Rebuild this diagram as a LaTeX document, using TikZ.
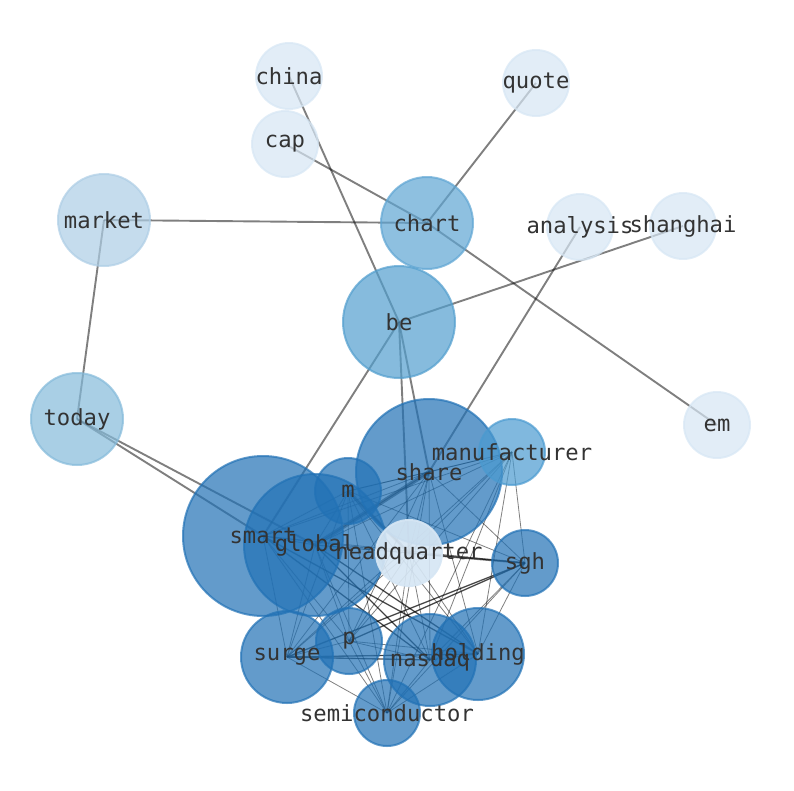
\documentclass[tikz,border=0pt]{standalone}
\usepackage{fontspec}
\newfontfamily\wordfont{DejaVu Sans Mono}
\usetikzlibrary{backgrounds}

\definecolor{blueA}{HTML}{D6E6F4}
\definecolor{blueB}{HTML}{ADCDE5}
\definecolor{blueC}{HTML}{84BADA}
\definecolor{blueD}{HTML}{5EA5D3}
\definecolor{blueE}{HTML}{529ECE}
\definecolor{blueF}{HTML}{4A9AD0}
\definecolor{blueG}{HTML}{2171B5}
\definecolor{wordgray}{HTML}{333333}

\tikzset{
  bub/.style={circle, draw=#1, fill=#1, opacity=0.7, line width=2pt, inner sep=0pt},
  word/.style={font=\wordfont\fontsize{22.2}{26}\selectfont, text=wordgray, inner sep=0pt},
  link/.style={draw=black, draw opacity=0.5, line width=1.9pt},
  clink/.style={draw=black, draw opacity=0.5, line width=0.8pt},
}

\begin{document}
\begin{tikzpicture}[x=1pt,y=-1pt]
\useasboundingbox (0,0) rectangle (794,790);

% bubbles: name/x/y/radius/colour
\foreach \n/\x/\y/\r/\c in {
  china/289/76/33/blueA, quote/536/83/33/blueA, cap/285/144/33/blueA,
  market/104/220/46/blueB, chart/427/223/46/blueD, analysis/580/227/33/blueA,
  shanghai/683/226/33/blueA, be/399/322/56/blueE, today/77/419/46/blueC,
  em/717/425/33/blueA, smart/263/536/80/blueG, global/315/545/71/blueG,
  m/348/491/33/blueG, share/429/472/73/blueG, manufacturer/512/452/33/blueF,
  sgh/525/563/33/blueG, surge/287/657/46/blueG, p/349/641/33/blueG,
  nasdaq/430/660/46/blueG, holding/478/654/46/blueG, semiconductor/387/713/33/blueG}
  \node[bub=\c, minimum size=2*\r pt] (\n) at (\x,\y) {};
\node[bub=blueA, opacity=0.92, minimum size=66pt] (headquarter) at (409,553) {};

% edges under the bubbles
\begin{scope}[on background layer]
  \foreach \a/\b in {china/be, cap/chart, chart/em, quote/chart, market/chart,
      market/today, analysis/share, shanghai/be, be/smart, be/share,
      be/headquarter, today/smart, today/global}
    \draw[link] (\a.center) -- (\b.center);
  \foreach \a [count=\i] in {share,manufacturer,m,smart,global,headquarter,sgh,surge,p,nasdaq,holding,semiconductor}
    \foreach \b [count=\j] in {share,manufacturer,m,smart,global,headquarter,sgh,surge,p,nasdaq,holding,semiconductor}
      {\ifnum\j>\i \draw[clink] (\a.center) -- (\b.center); \fi}
  % heavier ties
  \draw[clink, line width=4pt] (global.center) -- (share.center);
  \draw[clink, line width=3pt] (m.center) -- (headquarter.center);
  \draw[clink, line width=2.2pt] (headquarter.center) -- (sgh.center);
  \foreach \a/\b in {surge/nasdaq, surge/holding, smart/holding, global/holding,
      smart/nasdaq, global/nasdaq, sgh/p, sgh/surge}
    \draw[clink, line width=1.4pt] (\a.center) -- (\b.center);
\end{scope}

% words on top
\foreach \n in {china,quote,cap,market,chart,analysis,shanghai,be,today,em,
  smart,global,m,share,manufacturer,headquarter,sgh,surge,p,nasdaq,holding,semiconductor}
  \node[word] (\n-w) at (\n) {\n};
\end{tikzpicture}
\end{document}
